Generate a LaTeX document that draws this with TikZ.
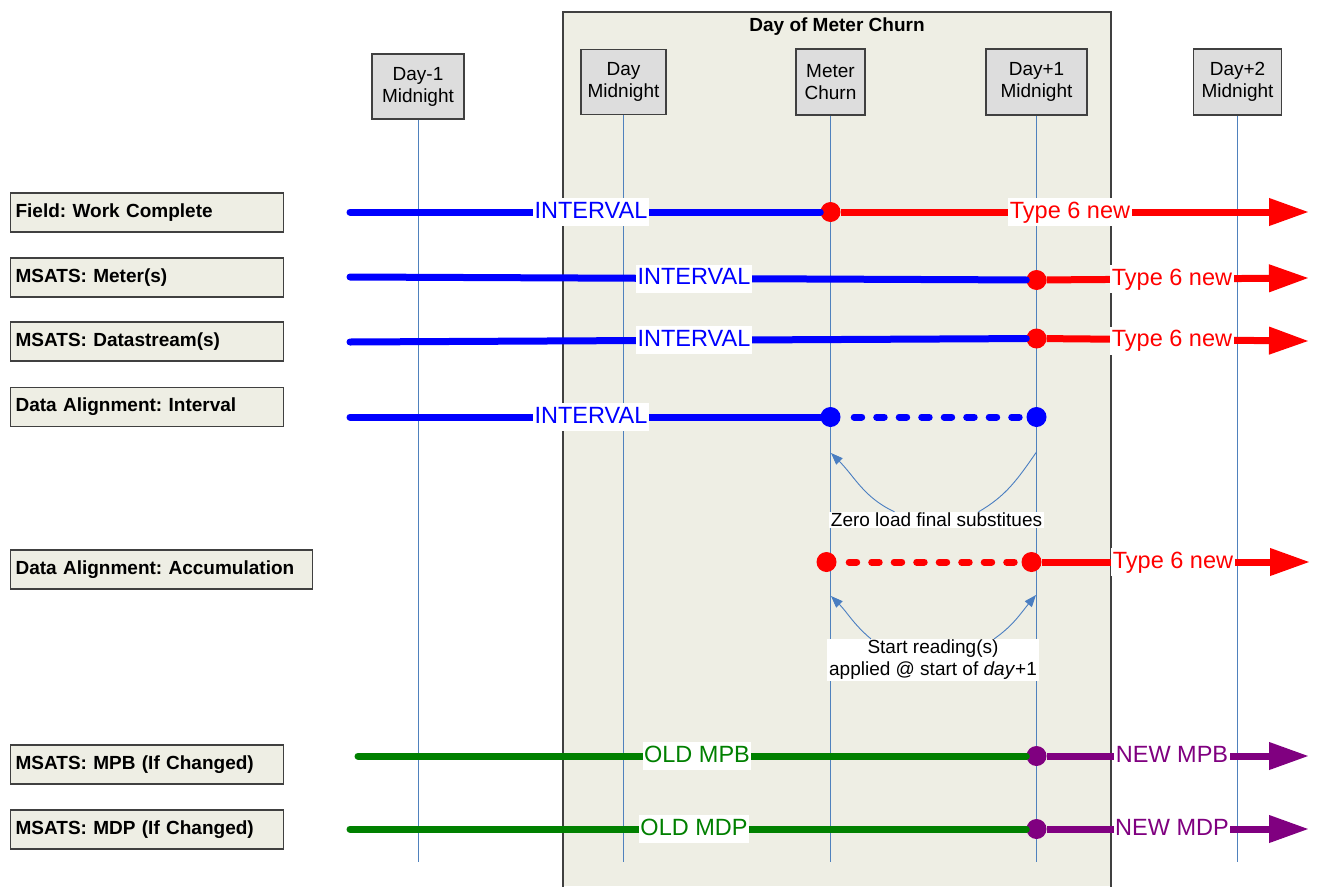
\documentclass[tikz,border=0pt]{standalone}
\usepackage{fontspec}
\setmainfont{Liberation Sans}
\usetikzlibrary{arrows.meta, calc}
\frenchspacing

\definecolor{paper}{RGB}{238,238,228}
\definecolor{boxline}{RGB}{64,64,64}
\definecolor{hdrfill}{RGB}{221,221,221}
\definecolor{vline}{RGB}{79,129,189}
\definecolor{notearrow}{RGB}{74,126,193}
\definecolor{oldgreen}{RGB}{0,128,0}
\definecolor{newpurple}{RGB}{128,0,128}

\begin{document}
\begin{tikzpicture}[x=1pt, y=-1pt,
		every node/.style={font=\fontsize{19}{22}\selectfont},
		hdr/.style={draw=boxline, fill=hdrfill, line width=1.2pt, align=center, inner sep=0pt, minimum height=65pt},
		lane/.style={draw=boxline, fill=paper, line width=1.2pt, anchor=west, minimum height=39pt, inner xsep=5pt, inner ysep=0pt, align=left, font=\bfseries\fontsize{19}{22}\selectfont},
		tick/.style={vline, line width=1pt},
		track/.style={#1, line width=7pt, line cap=round},
		trackarrow/.style={#1, line width=7pt, -{Triangle[length=40pt, width=26pt]}},
		dot/.style={circle, fill=#1, inner sep=0pt, minimum size=20pt},
		tag/.style={fill=white, text=#1, inner xsep=1.5pt, inner ysep=3pt, text height=17pt, text depth=5pt, font=\fontsize{23.5}{26}\selectfont},
		note/.style={fill=white, align=center, inner xsep=2pt, inner ysep=1pt},
		link/.style={notearrow, line width=0.9pt, -{Triangle[length=12pt, width=9pt]}}
	]
	\useasboundingbox (0,0) rectangle (1321,886);

	\fill[paper] (563,12) rectangle (1111,886);
	\draw[boxline, line width=1.2pt] (563,888) -- (563,12) -- (1111,12) -- (1111,888);
	\node[font=\bfseries\fontsize{19}{22}\selectfont] (churn) at (837,27) {Day of Meter Churn};

	\coordinate (base) at (0,862);

	\node[hdr, minimum width=92pt] (dm1) at (418,86.5) {Day-1\\Midnight};
	\node[hdr, minimum width=85pt] (d0) at (623.5,82) {Day\\Midnight};
	\node[hdr, minimum width=69pt, minimum height=66pt] (mc) at (830.5,82) {Meter\\Churn};
	\node[hdr, minimum width=101pt, minimum height=66pt] (dp1) at (1036.5,82) {Day+1\\Midnight};
	\node[hdr, minimum width=88pt, minimum height=66pt] (dp2) at (1237.5,82) {Day+2\\Midnight};

	\draw[tick] (dm1.south) -- (dm1.south |- base);
	\draw[tick] (d0.south) -- (d0.south |- base);
	\draw[tick] (mc.south) -- (mc.south |- base);
	\draw[tick] (dp1.south) -- (dp1.south |- base);
	\draw[tick] (dp2.south) -- (dp2.south |- base);

	\node[lane, text width=263pt] (field) at (10,212.5) {Field: Work Complete};
	\node[lane, text width=263pt] (meter) at (10,277.5) {MSATS: Meter(s)};
	\node[lane, text width=263pt] (stream) at (10,341.5) {MSATS: Datastream(s)};
	\node[lane, text width=263pt] (intv) at (10,407) {Data Alignment: Interval};
	\node[lane, text width=292pt] (accu) at (10,569.5) {Data Alignment: Accumulation};
	\node[lane, text width=263pt] (mpb) at (10,764.5) {MSATS: MPB (If Changed)};
	\node[lane, text width=263pt] (mdp) at (10,829.5) {MSATS: MDP (If Changed)};

	% work complete
	\coordinate (f0) at (350,212);
	\coordinate (f2) at (1309,212);
	\node[dot=red] (f1) at (830.5,212) {};
	\draw[track=blue] (f0) -- (f1);
	\draw[trackarrow=red] (f1) -- (f2);
	\node[tag=blue] (f-old) at (591,212) {INTERVAL};
	\node[tag=red] (f-new) at (1070,212) {Type 6 new};

	% meters
	\coordinate (m0) at (350,277);
	\coordinate (m2) at (1309,278);
	\node[dot=red] (m1) at (1036.5,280) {};
	\draw[track=blue] (m0) -- (m1);
	\draw[trackarrow=red] (m1) -- (m2);
	\node[tag=blue] (m-old) at (694,278.5) {INTERVAL};
	\node[tag=red] (m-new) at (1172,279) {Type 6 new};

	% datastreams
	\coordinate (s0) at (350,342);
	\coordinate (s2) at (1309,341);
	\node[dot=red] (s1) at (1036.5,338.5) {};
	\draw[track=blue] (s0) -- (s1);
	\draw[trackarrow=red] (s1) -- (s2);
	\node[tag=blue] (s-old) at (694,340) {INTERVAL};
	\node[tag=red] (s-new) at (1172,340.5) {Type 6 new};

	% interval data
	\coordinate (i0) at (350,417);
	\node[dot=blue] (i1) at (830.5,417) {};
	\node[dot=blue] (i2) at (1036.5,417) {};
	\draw[track=blue] (i0) -- (i1);
	\draw[track=blue, dash pattern=on 7.5pt off 15pt, dash phase=9pt] (i1) -- (i2);
	\node[tag=blue] (i-old) at (591,417) {INTERVAL};

	\node[note] (zero) at (936.5,520) {Zero load final substitues};
	\coordinate (zero-l) at (831,453);
	\coordinate (zero-r) at (1036.5,452);
	\draw[link] ([xshift=-42pt]zero.north) to[out=155, in=-45] (zero-l);
	\draw[notearrow, line width=0.9pt] ([xshift=42pt]zero.north) to[out=30, in=-125] (zero-r);

	% accumulation data
	\coordinate (a2) at (1310,562);
	\node[dot=red] (a0) at (826.5,562) {};
	\node[dot=red] (a1) at (1031.5,562) {};
	\draw[track=red, dash pattern=on 7.5pt off 15pt, dash phase=10pt] (a0) -- (a1);
	\draw[trackarrow=red] (a1) -- (a2);
	\node[tag=red] (a-new) at (1173,562) {Type 6 new};

	\node[note] (start) at (933,660) {Start reading(s)\\applied @ start of \textit{day}+1};
	\coordinate (start-l) at (831,596);
	\coordinate (start-r) at (1036,595);
	\draw[link] ([xshift=-62pt]start.north) to[out=140, in=-45] (start-l);
	\draw[link] ([xshift=61pt]start.north) to[out=35, in=-130] (start-r);

	% mpb
	\coordinate (p0) at (358,756);
	\coordinate (p2) at (1309,756);
	\node[dot=newpurple] (p1) at (1036.5,756) {};
	\draw[track=oldgreen] (p0) -- (p1);
	\draw[trackarrow=newpurple] (p1) -- (p2);
	\node[tag=oldgreen] (p-old) at (697,756) {OLD MPB};
	\node[tag=newpurple] (p-new) at (1172,756) {NEW MPB};

	% mdp
	\coordinate (d0l) at (350,829);
	\coordinate (d2) at (1309,829);
	\node[dot=newpurple] (d1) at (1036.5,829) {};
	\draw[track=oldgreen] (d0l) -- (d1);
	\draw[trackarrow=newpurple] (d1) -- (d2);
	\node[tag=oldgreen] (d-old) at (694,829) {OLD MDP};
	\node[tag=newpurple] (d-new) at (1172,829) {NEW MDP};
\end{tikzpicture}
\end{document}
